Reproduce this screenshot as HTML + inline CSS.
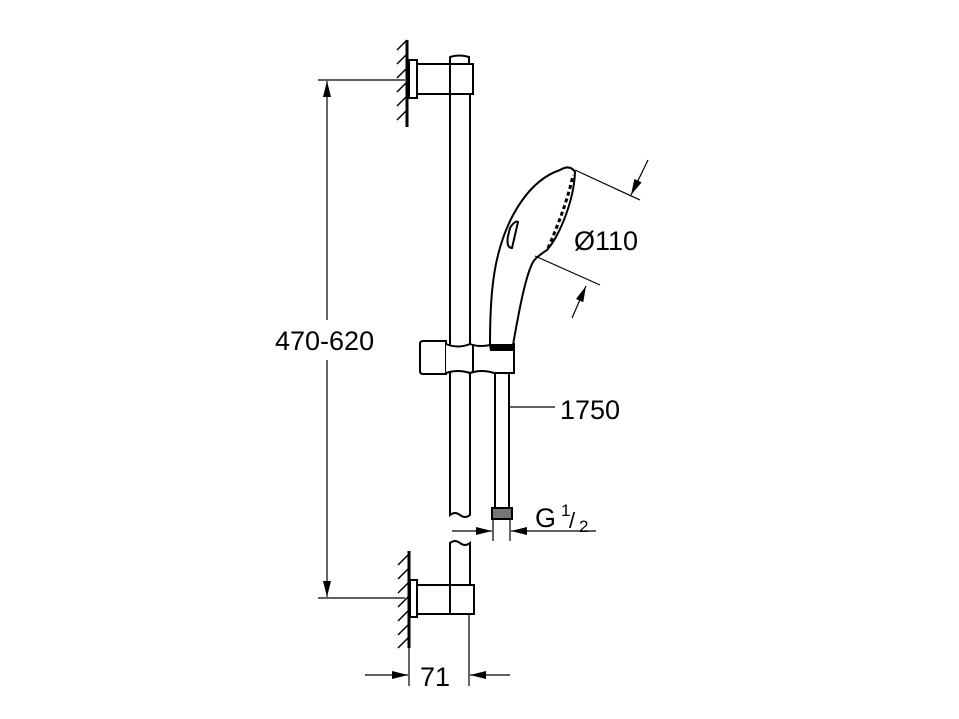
<!DOCTYPE html>
<html><head><style>body{margin:0;background:#fff}svg{display:block}</style></head><body>
<svg width="959" height="719" viewBox="0 0 959 719" xmlns="http://www.w3.org/2000/svg">
<defs>
<marker id="a" markerWidth="16" markerHeight="8" refX="16" refY="4" orient="auto" markerUnits="userSpaceOnUse"><path d="M0,0L16,4L0,8z" fill="#000"/></marker>
</defs>
<g fill="none" stroke="#000" stroke-width="2">
<!-- top wall -->
<line x1="407" y1="40" x2="407" y2="127" stroke-width="3"/>
<path d="M397,50l10,-10M397,64l10,-10M397,78l10,-10M397,92l10,-10M397,106l10,-10M397,120l10,-10" stroke-width="1.5"/>
<rect x="409" y="60" width="8" height="38"/>
<rect x="417" y="64" width="56" height="30"/>
<line x1="450" y1="64" x2="450" y2="94"/>
<path d="M450,64V57q9,-3 19,0V64"/>
<!-- rail -->
<path d="M450,94V515q5,-4 10,0t10,0V94"/>
<path d="M450,614V543q5,-4 10,0t10,0V585"/>
<!-- bottom wall -->
<line x1="409" y1="551" x2="409" y2="648" stroke-width="3"/>
<path d="M398,565l10,-10M398,579l10,-10M398,593l10,-10M398,607l10,-10M398,621l10,-10M398,635l10,-10M398,648l10,-10" stroke-width="1.5"/>
<rect x="410" y="580" width="7" height="37"/>
<rect x="417" y="585" width="57" height="29"/>
<line x1="450" y1="585" x2="450" y2="614"/>
<!-- holder -->
<path d="M420,344q0,-3 3,-3H446V374H423q-3,0 -3,-3z" fill="#fff"/>
<path d="M446,344q12,5 24,0q10,4 24,0H514V373H494q-12,-4 -24,0q-12,-4 -24,0" fill="#fff"/>
<line x1="473" y1="344" x2="473" y2="373"/>
<!-- hose -->
<path d="M495,373V508M509,373V508"/>
<rect x="492" y="508" width="20" height="11" fill="#777"/>
<!-- hand shower -->
<path d="M490,345C490,300 493,275 498,255C508,215 530,180 560,170Q570,164 575,172C574,200 560,235 547,250Q535,258 533,262C526,275 520,305 513,345Z" fill="#fff"/>
<path d="M548,248C556,230 568,200 573,175" stroke-width="3" stroke-dasharray="4 3"/>
<path d="M510,228Q515,220 518,222L512,248Q506,248 508,236Z"/>
<path d="M490,345L513,345L513,350L491,350Z" fill="#000"/>
<!-- 470-620 -->
<line x1="318" y1="80" x2="405" y2="80" stroke-width="1.2"/>
<line x1="318" y1="598" x2="405" y2="598" stroke-width="1.2"/>
<line x1="327" y1="320" x2="327" y2="81" stroke-width="1.2" marker-end="url(#a)"/>
<line x1="327" y1="360" x2="327" y2="597" stroke-width="1.2" marker-end="url(#a)"/>
<!-- Ø110 -->
<line x1="575" y1="170" x2="640" y2="200" stroke-width="1.2"/>
<line x1="535" y1="256" x2="600" y2="285" stroke-width="1.2"/>
<line x1="648" y1="160" x2="631" y2="195" stroke-width="1.2" marker-end="url(#a)"/>
<line x1="572" y1="318" x2="586" y2="286" stroke-width="1.2" marker-end="url(#a)"/>
<!-- 1750 -->
<line x1="510" y1="407" x2="555" y2="407" stroke-width="1.2"/>
<!-- G1/2 -->
<line x1="493" y1="519" x2="493" y2="541" stroke-width="1.2"/>
<line x1="510" y1="519" x2="510" y2="541" stroke-width="1.2"/>
<line x1="452" y1="531" x2="492" y2="531" stroke-width="1.2" marker-end="url(#a)"/>
<line x1="596" y1="531" x2="511" y2="531" stroke-width="1.2" marker-end="url(#a)"/>
<!-- 71 -->
<line x1="409" y1="648" x2="409" y2="686" stroke-width="1.2"/>
<line x1="469" y1="614" x2="469" y2="686" stroke-width="1.2"/>
<line x1="365" y1="675" x2="408" y2="675" stroke-width="1.2" marker-end="url(#a)"/>
<line x1="510" y1="675" x2="470" y2="675" stroke-width="1.2" marker-end="url(#a)"/>
</g>
<g font-family="Liberation Sans, sans-serif" font-size="27" fill="#000">
<text x="275" y="350">470-620</text>
<text x="574" y="250">Ø110</text>
<text x="560" y="419">1750</text>
<text x="535" y="527">G</text>
<text x="561" y="516" font-size="17">1</text>
<text x="569" y="528" font-size="22">/</text>
<text x="579" y="532" font-size="17">2</text>
<text x="420" y="686">71</text>
</g>
</svg>
</body></html>
